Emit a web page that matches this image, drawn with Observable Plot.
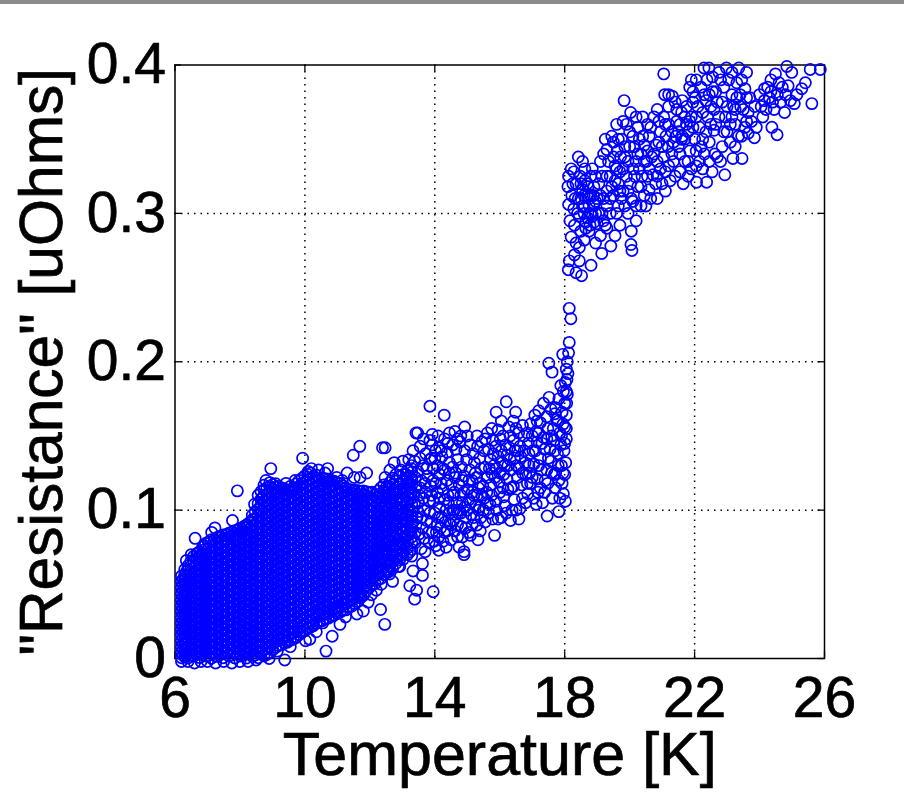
<!DOCTYPE html>
<html><head><meta charset="utf-8">
<script src="https://cdn.jsdelivr.net/npm/d3@7"></script>
<script src="https://cdn.jsdelivr.net/npm/@observablehq/plot@0.6"></script>
<style>
html,body{margin:0;padding:0;background:#fff}
#band{position:absolute;left:0;top:0;width:904px;height:4px;background:#8a8a8a}
svg{display:block}
svg text{stroke:#000;stroke-width:.7px}
</style></head><body>
<div id="band"></div>
<div id="chart"></div>
<script>
const xTicks=[6,10,14,18,22,26];
const yTicks=[0,.1,.2,.3,.4];
const xLabel="Temperature [K]";
const yLabel='"Resistance" [uOhms]';
// saturated low-temperature mass: [temperature, resistance values x 1e-4]
const saturatedColumns=[
[6.2,[5,40,78,120,158,195,238,275,318,355,395,438,478,520,555]],
[6.3,[12,52,92,130,172,210,250,292,330,372,410,452,490,532,565]],
[6.4,[3,45,82,125,165,202,245,285,322,365,402,445,482,525,560,598,625]],
[6.58,[15,55,98,135,178,215,258,295,338,375,418,455,498,535,578,615,655,690]],
[6.76,[6,48,85,128,168,205,248,288,325,368,405,448,485,528,565,608,645,688,720]],
[6.94,[18,58,100,138,180,218,260,298,340,378,420,458,500,538,580,618,660,698,738,775]],
[7.12,[2,42,82,122,162,205,242,285,322,365,402,445,482,525,562,605,642,685,722,762,800]],
[7.3,[14,55,95,135,175,215,255,295,335,375,415,455,495,535,575,615,655,695,735,775,815]],
[7.48,[5,45,85,125,165,208,245,288,325,368,405,448,485,528,565,608,645,688,725,768,805,832]],
[7.66,[18,58,98,138,178,218,258,298,338,378,418,458,498,538,578,618,658,698,738,778,818,845]],
[7.84,[4,44,84,124,164,204,244,284,324,364,404,444,484,524,564,604,644,684,724,764,804,842,862]],
[8.02,[16,56,96,136,176,216,256,296,336,376,416,456,496,536,576,616,656,696,736,776,816,856,878]],
[8.2,[3,42,82,122,162,202,242,282,322,362,402,442,482,522,562,602,642,682,722,762,802,842,880,898]],
[8.38,[14,54,94,134,174,214,254,294,334,374,414,454,494,534,574,614,654,694,734,774,814,854,894,935,965]],
[8.56,[5,44,84,124,164,204,244,284,324,364,404,444,484,524,564,604,644,684,724,764,804,844,884,924,964,1004,1045,1100]],
[8.74,[18,58,98,138,178,218,258,298,338,378,418,458,498,538,578,618,658,698,738,778,818,858,898,938,978,1018,1058,1098,1138,1168]],
[8.92,[40,80,120,160,200,240,280,320,360,400,440,480,520,560,600,640,680,720,760,800,840,880,920,960,1000,1040,1080,1120,1160,1185]],
[9.1,[75,115,155,195,235,275,315,355,395,435,475,515,555,595,635,675,715,755,795,835,875,915,955,995,1035,1075,1115,1155,1178]],
[9.28,[92,132,172,212,252,292,332,372,412,452,492,532,572,612,652,692,732,772,812,852,892,932,972,1012,1052,1092,1132,1150]],
[9.46,[110,150,190,230,270,310,350,390,430,470,510,550,590,630,670,710,750,790,830,870,910,950,990,1030,1070,1110,1135]],
[9.64,[130,170,210,250,290,330,370,410,450,490,530,570,610,650,690,730,770,810,850,890,930,970,1010,1050,1090,1130,1150]],
[9.82,[160,200,240,280,320,360,400,440,480,520,560,600,640,680,720,760,800,840,880,920,960,1000,1040,1080,1120,1160,1200]],
[10,[188,228,268,308,348,388,428,468,508,548,588,628,668,708,748,788,828,868,908,948,988,1028,1068,1108,1148,1188,1232]],
[10.18,[212,252,292,332,372,412,452,492,532,572,612,652,692,732,772,812,852,892,932,972,1012,1052,1092,1132,1172,1212,1250]],
[10.36,[238,278,318,358,398,438,478,518,558,598,638,678,718,758,798,838,878,918,958,998,1038,1078,1118,1158,1198,1235]],
[10.54,[255,295,335,375,415,455,495,535,575,615,655,695,735,775,815,855,895,935,975,1015,1055,1095,1135,1175,1215]],
[10.72,[272,312,352,392,432,472,512,552,592,632,672,712,752,792,832,872,912,952,992,1032,1072,1112,1152,1192,1208]],
[10.9,[292,332,372,412,452,492,532,572,612,652,692,732,772,812,852,892,932,972,1012,1052,1092,1132,1172,1195]],
[11.08,[312,352,392,432,472,512,552,592,632,672,712,752,792,832,872,912,952,992,1032,1072,1112,1152,1180]],
[11.26,[328,368,408,448,488,528,568,608,648,688,728,768,808,848,888,928,968,1008,1048,1088,1128,1150]],
[11.44,[352,392,432,472,512,552,592,632,672,712,752,792,832,872,912,952,992,1032,1072,1112,1135]],
[11.62,[385,425,465,505,545,585,625,665,705,745,785,825,865,905,945,985,1025,1065,1105,1132]],
[11.8,[425,465,505,545,585,625,665,705,745,785,825,865,905,945,985,1025,1065,1105,1130]],
[11.98,[478,518,558,598,638,678,718,758,798,838,878,918,958,998,1038,1078,1118]],
[12.16,[505,555,600,640,682,720,765,805,850,888,930,975,1020,1060,1105]],
[12.34,[540,590,630,680,715,760,800,845,890,930,970,1015,1060,1110,1150]],
];
// second pass through the same mass, staggered between the first columns
const saturatedFill=[
[6.25,[22,60,98,138,178,218,258,298,338,378,418,458,498,535]],
[6.35,[28,68,108,148,188,228,268,308,348,388,428,468,508,548,585]],
[6.49,[24,64,104,144,184,224,264,304,344,384,424,464,504,544,584,622,655]],
[6.67,[32,72,112,152,192,232,272,312,352,392,432,472,512,552,592,632,672,705]],
[6.85,[26,66,106,146,186,226,266,306,346,386,426,466,506,546,586,626,666,706,750]],
[7.03,[22,62,102,142,182,222,262,302,342,382,422,462,502,542,582,622,662,702,742,785]],
[7.21,[34,74,114,154,194,234,274,314,354,394,434,474,514,554,594,634,674,714,754,800]],
[7.39,[25,65,105,145,185,225,265,305,345,385,425,465,505,545,585,625,665,705,745,785,822]],
[7.57,[36,76,116,156,196,236,276,316,356,396,436,476,516,556,596,636,676,716,756,796,835]],
[7.75,[24,64,104,144,184,224,264,304,344,384,424,464,504,544,584,624,664,704,744,784,824,852]],
[7.93,[30,70,110,150,190,230,270,310,350,390,430,470,510,550,590,630,670,710,750,790,830,868]],
[8.11,[22,62,102,142,182,222,262,302,342,382,422,462,502,542,582,622,662,702,742,782,822,862,888]],
[8.29,[32,72,112,152,192,232,272,312,352,392,432,472,512,552,592,632,672,712,752,792,832,872,915]],
[8.47,[24,64,104,144,184,224,264,304,344,384,424,464,504,544,584,624,664,704,744,784,824,864,904,944,990]],
[8.65,[34,74,114,154,194,234,274,314,354,394,434,474,514,554,594,634,674,714,754,794,834,874,914,954,994,1034,1074,1125]],
[8.83,[28,68,108,148,188,228,268,308,348,388,428,468,508,548,588,628,668,708,748,788,828,868,908,948,988,1028,1068,1108,1150]],
[9.01,[60,100,140,180,220,260,300,340,380,420,460,500,540,580,620,660,700,740,780,820,860,900,940,980,1020,1060,1100,1140,1172]],
[9.19,[88,128,168,208,248,288,328,368,408,448,488,528,568,608,648,688,728,768,808,848,888,928,968,1008,1048,1088,1128,1160]],
[9.37,[105,145,185,225,265,305,345,385,425,465,505,545,585,625,665,705,745,785,825,865,905,945,985,1025,1065,1105,1142]],
[9.55,[124,164,204,244,284,324,364,404,444,484,524,564,604,644,684,724,764,804,844,884,924,964,1004,1044,1084,1124]],
[9.73,[148,188,228,268,308,348,388,428,468,508,548,588,628,668,708,748,788,828,868,908,948,988,1028,1068,1108,1148,1178]],
[9.91,[178,218,258,298,338,378,418,458,498,538,578,618,658,698,738,778,818,858,898,938,978,1018,1058,1098,1138,1178,1215]],
[10.09,[205,245,285,325,365,405,445,485,525,565,605,645,685,725,765,805,845,885,925,965,1005,1045,1085,1125,1165,1205,1240]],
[10.27,[228,268,308,348,388,428,468,508,548,588,628,668,708,748,788,828,868,908,948,988,1028,1068,1108,1148,1188,1228]],
[10.45,[248,288,328,368,408,448,488,528,568,608,648,688,728,768,808,848,888,928,968,1008,1048,1088,1128,1168,1208]],
[10.63,[268,308,348,388,428,468,508,548,588,628,668,708,748,788,828,868,908,948,988,1028,1068,1108,1148,1188,1212]],
[10.81,[285,325,365,405,445,485,525,565,605,645,685,725,765,805,845,885,925,965,1005,1045,1085,1125,1165,1200]],
[10.99,[305,345,385,425,465,505,545,585,625,665,705,745,785,825,865,905,945,985,1025,1065,1105,1145,1185]],
[11.17,[325,365,405,445,485,525,565,605,645,685,725,765,805,845,885,925,965,1005,1045,1085,1125,1165]],
[11.35,[345,385,425,465,505,545,585,625,665,705,745,785,825,865,905,945,985,1025,1065,1105,1140]],
[11.53,[372,412,452,492,532,572,612,652,692,732,772,812,852,892,932,972,1012,1052,1092,1132]],
[11.71,[408,448,488,528,568,608,648,688,728,768,808,848,888,928,968,1008,1048,1088,1125]],
[11.89,[455,495,535,575,615,655,695,735,775,815,855,895,935,975,1015,1055,1095,1125]],
[12.07,[498,540,580,625,660,705,745,785,825,870,910,950,995,1035,1080,1120]],
[12.25,[530,575,615,660,700,745,785,830,870,910,955,995,1040,1085,1130]],
[12.43,[565,610,655,700,740,780,825,870,910,950,995,1040,1085,1130,1170]],
[12.52,[590,640,690,725,770,815,860,900,945,985,1030,1075,1120,1160]],
[12.61,[570,625,665,705,750,795,835,880,920,965,1005,1050,1095,1140,1185]],
[12.7,[605,650,695,735,780,820,865,905,950,990,1035,1080,1125,1170,1215]],
[12.8,[640,680,725,765,810,850,895,935,980,1020,1065,1110,1150,1195]],
[12.92,[620,665,705,750,795,835,880,925,965,1010,1050,1095,1140,1180,1230]],
[13.03,[670,715,755,800,845,890,930,975,1015,1060,1105,1145,1190,1240]],
[13.16,[700,745,790,830,875,920,960,1005,1050,1090,1135,1175,1220,1265]],
[13.29,[690,735,780,820,870,910,950,995,1040,1080,1125,1170,1210,1255,1300]],
];
// visible points along the edge of the mass and the low outliers
const lowEdge=[[7.92,.113],[8.95,.128],[9.93,.135],[7.77,.093],[8.2,.09],[6.62,.081],[7.23,.088],[7.13,.085],[6.9,.076],[6.7,.071],[6.35,.066],[6.3,.06],[6.5,.07],[7.35,.082],[7.55,.08],[8.45,.104],[8.68,.108],[8.8,.12],[9.15,.112],[9.42,.118],[9.55,.116],[9.7,.12],[10.1,.126],[10.2,.128],[10.42,.127],[10.62,.125],[10.7,.128],[10.98,.122],[11.15,.12],[11.3,.125],[11.52,.122],[11.7,.122],[11.9,.125],[11.69,.143],[11.49,.137],[12.39,.142],[10.65,.005],[9.38,-.001],[10.84,.015],[10.15,.013],[10.02,.012],[9.55,.008],[9.15,.005],[9.72,.014],[10.35,.018],[10.55,.024],[11.08,.023],[11.25,.028],[11.8,.032],[11.6,.03],[11.95,.038],[12.05,.043],[11.72,.042],[12.46,.023],[12.33,.033],[12.2,.046],[12.35,.05],[12.7,.052],[12.55,.058],[6.4,-.002],[7,-.002],[7.5,-.002],[8,-.002],[8.5,-.001],[8.9,0],[6.2,-.002],[6.6,-.003],[6.8,-.002],[7.25,-.003],[7.75,-.003],[8.25,-.002],[9.42,.012],[9.85,.018],[10.25,.022],[10.42,.03],[10.7,.03],[10.95,.032],[11.2,.038],[11.45,.04],[11.85,.048]];
// scattered band from 12 K up to the transition
const midBand=[[12.5,.06],[12.6,.066],[12.48,.072],[12.7,.07],[12.55,.08],[12.72,.082],[12.48,.09],[12.62,.094],[12.8,.09],[12.5,.102],[12.68,.105],[12.82,.1],[12.47,.112],[12.6,.116],[12.75,.113],[12.9,.112],[12.47,.122],[12.62,.127],[12.8,.124],[12.95,.127],[12.47,.142],[12.75,.132],[13.02,.133],[12.88,.062],[13,.07],[12.92,.077],[13.08,.082],[12.95,.088],[13.1,.092],[13,.097],[13.18,.1],[13.02,.106],[13.2,.108],[13.05,.114],[13.22,.118],[13.12,.124],[13.28,.128],[13.2,.134],[13.38,.133],[13.42,.152],[13.47,.152],[13.33,.14],[13.55,.143],[13.23,.072],[13.36,.079],[13.25,.086],[13.42,.09],[13.3,.096],[13.48,.099],[13.38,.105],[13.52,.11],[13.42,.116],[13.58,.12],[13.48,.126],[13.65,.13],[13.55,.135],[13.72,.138],[13.65,.148],[13.85,.147],[13.85,.17],[13.92,.151],[14.29,.164],[13.33,.059],[13.62,.056],[13.62,.064],[13.38,.04],[13.44,.046],[13.23,.049],[13.95,.045],[13.58,.074],[13.68,.081],[13.62,.088],[13.75,.093],[13.68,.1],[13.82,.106],[13.72,.112],[13.88,.116],[13.78,.123],[13.95,.128],[13.85,.134],[14.02,.14],[13.92,.144],[14.1,.15],[13.82,.078],[13.92,.085],[13.88,.092],[14,.098],[13.95,.106],[14.08,.112],[14.02,.118],[14.15,.124],[14.08,.13],[14.22,.136],[14.15,.142],[14.3,.148],[14.45,.152],[14.62,.153],[14.92,.156],[14.8,.15],[14.03,.076],[14.12,.082],[14.08,.09],[14.22,.095],[14.15,.102],[14.3,.107],[14.25,.114],[14.38,.12],[14.3,.127],[14.45,.132],[14.38,.139],[14.55,.144],[14.25,.079],[14.38,.086],[14.32,.092],[14.45,.098],[14.42,.105],[14.55,.11],[14.5,.117],[14.62,.122],[14.55,.129],[14.7,.134],[14.65,.141],[14.78,.146],[14.9,.072],[14.9,.07],[14.5,.08],[14.62,.086],[14.58,.093],[14.72,.098],[14.68,.105],[14.8,.11],[14.75,.117],[14.9,.123],[14.82,.129],[14.98,.134],[14.92,.14],[15.08,.144],[14.75,.075],[14.85,.082],[14.82,.089],[14.95,.095],[14.92,.102],[15.05,.107],[15,.114],[15.15,.12],[15.08,.127],[15.22,.132],[15.18,.138],[15.32,.143],[15.05,.085],[15.15,.09],[15.12,.097],[15.25,.103],[15.2,.11],[15.35,.115],[15.28,.122],[15.42,.128],[15.38,.135],[15.52,.14],[15.45,.146],[15.33,.08],[15.3,.09],[15.42,.095],[15.38,.102],[15.52,.108],[15.48,.116],[15.62,.122],[15.55,.129],[15.72,.134],[15.65,.141],[15.78,.147],[15.62,.152],[15.84,.083],[15.55,.092],[15.65,.098],[15.62,.105],[15.75,.11],[15.72,.117],[15.85,.122],[15.82,.13],[15.95,.136],[15.88,.143],[16.02,.148],[15.95,.154],[15.89,.166],[16.05,.16],[16.2,.173],[15.78,.094],[15.9,.1],[15.88,.106],[16,.112],[15.98,.119],[16.12,.124],[16.08,.132],[16.22,.137],[16.18,.144],[16.32,.15],[16.28,.156],[16.42,.16],[16.49,.166],[16.05,.095],[16.15,.103],[16.12,.109],[16.25,.114],[16.22,.121],[16.35,.127],[16.32,.134],[16.48,.14],[16.42,.147],[16.58,.152],[16.33,.093],[16.38,.1],[16.45,.107],[16.42,.116],[16.55,.122],[16.52,.13],[16.65,.136],[16.62,.143],[16.75,.15],[16.7,.157],[16.59,.094],[16.62,.101],[16.7,.108],[16.68,.117],[16.8,.124],[16.78,.132],[16.9,.138],[16.88,.145],[17,.15],[16.95,.158],[17.08,.164],[16.86,.111],[16.95,.118],[16.92,.125],[17.05,.131],[17.02,.14],[17.15,.146],[17.12,.153],[17.25,.159],[17.2,.167],[17.35,.172],[17.12,.104],[17.32,.105],[17.18,.112],[17.15,.121],[17.28,.127],[17.25,.135],[17.38,.141],[17.35,.149],[17.48,.155],[17.45,.163],[17.58,.168],[17.52,.176],[17.46,.096],[17.38,.112],[17.48,.118],[17.45,.127],[17.58,.133],[17.55,.141],[17.68,.147],[17.65,.155],[17.75,.161],[17.72,.169],[17.82,.175],[17.51,.199],[17.61,.193],[17.82,.099],[17.62,.108],[17.72,.115],[17.68,.124],[17.8,.13],[17.78,.138],[17.88,.144],[17.85,.152],[17.95,.158],[17.92,.166],[18,.172],[17.96,.18],[17.88,.184],[18.02,.186],[17.85,.108],[17.96,.111],[18.02,.106],[17.92,.118],[18,.124],[18.03,.132],[17.98,.14],[18.05,.148],[18,.156],[18.05,.164],[18.06,.172],[18.05,.18],[18.07,.188],[18.05,.195],[18.08,.2],[17.94,.205],[18.12,.206],[18.14,.213]];
// more points where the mid band is thickest
const midBandFill=[[13.4,.085],[13.45,.095],[13.5,.105],[13.55,.115],[13.35,.11],[13.4,.122],[13.6,.095],[13.65,.108],[13.7,.118],[13.75,.128],[13.8,.085],[13.85,.098],[13.9,.11],[13.95,.12],[14,.135],[14.05,.085],[14.1,.095],[14.15,.108],[14.2,.118],[14.25,.128],[14.3,.085],[14.35,.1],[14.4,.11],[14.45,.125],[14.5,.09],[14.55,.1],[14.6,.112],[14.65,.125],[14.7,.09],[14.75,.1],[14.8,.098],[14.85,.12],[14.9,.112],[14.95,.088],[15,.1],[15.05,.12],[15.1,.105],[15.15,.112],[15.2,.095],[15.25,.125],[15.3,.11],[15.35,.1],[15.4,.118],[15.45,.11],[15.5,.1],[15.6,.112],[15.68,.128],[15.75,.125],[15.8,.138],[15.9,.128],[16,.125],[16.05,.14],[16.1,.115],[16.15,.13],[16.25,.13],[16.3,.142],[16.35,.115],[16.45,.135],[16.55,.14],[16.6,.128],[16.7,.125],[16.75,.14],[16.85,.118],[16.9,.13],[17,.122],[17.1,.14],[17.2,.13],[17.3,.145],[17.4,.12],[17.5,.135],[17.6,.15],[17.7,.14],[17.8,.16],[17.9,.13],[17.9,.15],[17.95,.125],[17.72,.125],[17.6,.125],[17.82,.12],[18,.145],[18.05,.155],[18.08,.178],[18.1,.192],[13.4,.078],[13.52,.084],[13.7,.072],[13.98,.079],[14.18,.088],[14.45,.091],[14.12,.073],[14.35,.075],[14.6,.1],[14.85,.105],[15.1,.083],[14.7,.082],[15.4,.086],[15.7,.104],[15.95,.094],[16.2,.098],[16.5,.1],[16.8,.105],[17.05,.108],[17.25,.115],[13.9,.135],[14.2,.14],[14.4,.145],[14.7,.148],[15,.15],[15.3,.15],[15.55,.148],[15.75,.155],[16.1,.15],[16.5,.155],[16.85,.152],[17.2,.152],[17.45,.148],[17.7,.165],[17.15,.16]];
// upper branch above the transition
const upperBand=[[18.14,.236],[18.19,.229],[18.11,.262],[18.14,.268],[18.45,.268],[18.35,.26],[18.52,.258],[18.81,.265],[19.14,.273],[19.42,.278],[20.04,.279],[20.07,.275],[18.42,.338],[18.55,.335],[18.2,.33],[18.12,.325],[18.28,.328],[18.1,.318],[18.22,.312],[18.35,.32],[18.48,.325],[18.62,.33],[18.12,.306],[18.28,.303],[18.42,.31],[18.55,.316],[18.7,.32],[18.85,.33],[18.16,.295],[18.3,.292],[18.45,.298],[18.6,.304],[18.75,.31],[18.9,.318],[18.2,.284],[18.35,.28],[18.5,.288],[18.65,.294],[18.8,.3],[18.95,.308],[19.05,.32],[19.1,.335],[18.3,.272],[18.45,.277],[18.6,.282],[18.75,.288],[18.9,.294],[19.05,.3],[19.2,.31],[19.3,.325],[19.2,.34],[19.25,.35],[18.95,.28],[19.1,.285],[19.25,.292],[19.4,.3],[19.5,.312],[19.4,.325],[19.5,.338],[19.45,.352],[19.6,.36],[19.55,.285],[19.7,.292],[19.65,.305],[19.8,.315],[19.7,.328],[19.85,.338],[19.75,.35],[19.9,.36],[19.8,.362],[19.83,.376],[20.03,.368],[19.95,.3],[20.05,.288],[20.2,.295],[20.1,.308],[20.25,.318],[20.1,.33],[20.25,.34],[20.1,.352],[20.25,.358],[20.4,.365],[20.55,.36],[20.35,.305],[20.45,.312],[20.38,.325],[20.52,.335],[20.45,.346],[20.6,.352],[20.75,.365],[20.9,.362],[20.6,.316],[20.72,.326],[20.68,.338],[20.82,.346],[20.95,.355],[21.05,.365],[21.2,.372],[21.05,.394],[21.08,.38],[21.31,.379],[21.62,.376],[21,.32],[20.95,.33],[21.05,.338],[21.18,.345],[21.3,.355],[21.45,.362],[21.6,.368],[21.75,.372],[21.85,.385],[21.2,.332],[21.35,.335],[21.5,.345],[21.62,.352],[21.75,.36],[21.9,.365],[22.02,.378],[22.05,.39],[21.55,.328],[21.7,.335],[21.85,.342],[22,.35],[22.15,.358],[22.25,.368],[22.3,.38],[22.29,.398],[22.44,.398],[21.9,.33],[22.06,.321],[22.37,.321],[22.54,.328],[22.15,.335],[22.3,.34],[22.45,.348],[22.6,.356],[22.75,.365],[22.5,.372],[22.65,.382],[22.8,.39],[22.55,.392],[22.98,.398],[22.93,.326],[22.7,.338],[22.85,.345],[23,.355],[23.18,.337],[23.46,.337],[23.1,.348],[23.25,.36],[23,.372],[23.15,.38],[23.3,.388],[23.36,.398],[23.45,.39],[23.55,.384],[23.42,.372],[23.6,.362],[23.45,.352],[23.65,.354],[23.84,.351],[23.75,.362],[23.9,.358],[24.05,.372],[23.85,.372],[23.7,.378],[24,.38],[24.15,.376],[24.3,.378],[24.15,.384],[24.38,.358],[24.54,.353],[24.77,.368],[24.49,.394],[24.6,.388],[24.84,.399],[24.99,.395],[24.45,.37],[24.65,.375],[24.8,.38],[24.95,.376],[25.07,.374],[25.15,.38],[25.41,.388],[25.3,.384],[25.56,.397],[25.87,.397],[25.61,.374]];
// more points where the upper branch clusters
const upperBandFill=[[18.6,.3],[18.7,.297],[18.75,.305],[18.85,.298],[18.9,.306],[18.8,.312],[18.7,.312],[18.95,.3],[19,.293],[18.65,.29],[18.78,.292],[18.55,.305],[18.6,.312],[19,.31],[18.72,.318],[18.88,.312],[18.5,.31],[18.4,.3],[18.32,.31],[18.25,.32],[18.5,.32],[18.62,.322],[18.8,.325],[18.95,.325],[19.1,.312],[19.15,.325],[19.3,.315],[19.35,.335],[19.15,.3],[19.3,.305],[19.45,.318],[19.55,.322],[19.6,.33],[19.65,.32],[19.7,.315],[19.55,.332],[19.62,.342],[19.72,.338],[19.8,.33],[19.9,.325],[19.95,.335],[19.85,.345],[20,.345],[20.15,.345],[20.02,.32],[20.15,.325],[20.3,.33],[20.2,.335],[20.35,.34],[20.3,.35],[20.45,.335],[20.55,.342],[20.6,.33],[20.75,.34],[20.85,.335],[20.9,.348],[21,.345],[21.12,.352],[21.2,.36],[21.1,.36],[21.35,.348],[21.42,.352],[21.5,.355],[21.55,.36],[21.6,.35],[21.7,.35],[21.8,.355],[21.85,.362],[21.45,.37],[21.7,.365],[21.95,.358],[22.05,.365],[22.1,.372],[22.2,.345],[22.35,.355],[22.4,.365],[22.45,.38],[22.38,.39],[22.6,.37],[22.7,.375],[22.65,.36],[22.85,.375],[22.9,.385],[22.75,.395],[22.95,.365],[23.1,.36],[23.15,.365],[23.2,.372],[23.3,.378],[23.4,.38],[23.5,.37],[23.55,.358],[23.65,.368],[23.6,.378],[23.25,.345],[23.35,.352],[24.1,.365],[24.2,.37],[24.25,.385],[24.35,.382],[24.4,.375],[24.55,.38],[24.7,.385],[24.35,.39],[24.88,.386],[23.6,.395],[23.15,.395],[23.05,.39],[21.95,.375],[21.9,.39],[19.3,.29],[19.6,.3],[19.85,.305],[20.05,.31],[20.2,.305],[20.5,.305],[20.65,.31],[20.85,.31],[20.8,.32],[21.1,.315],[21.25,.322],[21.4,.325],[21.65,.32],[21.8,.325],[22.05,.332],[22.25,.33],[22.45,.335],[22.62,.34],[22.8,.335],[19.4,.31],[19.2,.295],[19.75,.31],[19.95,.315],[20.35,.318],[20.55,.325],[20.85,.325],[21.1,.328],[21.3,.34],[21.55,.34],[21.8,.335],[22.05,.342],[22.25,.35],[22.5,.36],[19.5,.348],[19.3,.343],[19.65,.35],[20,.355],[20.4,.352],[20.65,.358],[20.2,.365],[20.85,.37],[21.4,.375],[21.2,.38],[21.95,.382],[22.2,.385],[22.55,.382],[22.35,.376],[23.25,.37],[22.9,.355]];
const points=[
  ...saturatedColumns.flatMap(([t,rs])=>rs.map(r=>[t,r/1e4])),
  ...saturatedFill.flatMap(([t,rs])=>rs.map(r=>[t,r/1e4])),
  ...lowEdge,...midBand,...midBandFill,...upperBand,...upperBandFill
];
const tickCommon={tickSize:0,tickFormat:d=>d===0?"0":String(d)};
const chart=Plot.plot({
  width:904,height:793,
  marginLeft:174.5,marginRight:80,marginTop:64.5,marginBottom:135,
  style:{fontFamily:'"Liberation Sans",Arial,sans-serif',background:"#fff",overflow:"visible"},
  x:{domain:[6,26],ticks:xTicks,label:null},
  y:{domain:[0,.4],ticks:yTicks,label:null},
  marks:[
    Plot.gridX(xTicks.slice(1,-1),{stroke:"#000",strokeOpacity:1,strokeWidth:1.5,strokeDasharray:"1.5 5"}),
    Plot.gridY(yTicks.slice(1,-1),{stroke:"#000",strokeOpacity:1,strokeWidth:1.5,strokeDasharray:"1.5 5"}),
    Plot.frame({stroke:"#000",strokeWidth:1.5}),
    Plot.ruleX(xTicks,{x:d=>d,y1:0,y2:.0045,stroke:"#000",strokeWidth:1.3}),
    Plot.ruleX(xTicks,{x:d=>d,y1:.4,y2:.3955,stroke:"#000",strokeWidth:1.3}),
    Plot.ruleY(yTicks,{y:d=>d,x1:6,x2:6.2,stroke:"#000",strokeWidth:1.3}),
    Plot.ruleY(yTicks,{y:d=>d,x1:25.8,x2:26,stroke:"#000",strokeWidth:1.3}),
    Plot.dot(points,{x:d=>d[0],y:d=>d[1],r:5.6,stroke:"#0000ff",strokeWidth:1.7,fill:"none",clip:false}),
    Plot.axisX(xTicks,{anchor:"bottom",...tickCommon,fontSize:57,tickPadding:18,label:null,fill:"#000"}),
    Plot.axisY(yTicks,{anchor:"left",...tickCommon,fontSize:57,tickPadding:9,label:null,fill:"#000"}),
    Plot.text([xLabel],{frameAnchor:"bottom",dy:97,dx:0,fontSize:61,fill:"#000",lineAnchor:"middle"}),
    Plot.text([yLabel],{frameAnchor:"left",dx:-132,rotate:-90,textAnchor:"middle",fontSize:60.5,fill:"#000"})
  ]
});
document.getElementById("chart").appendChild(chart);
</script>
</body></html>
